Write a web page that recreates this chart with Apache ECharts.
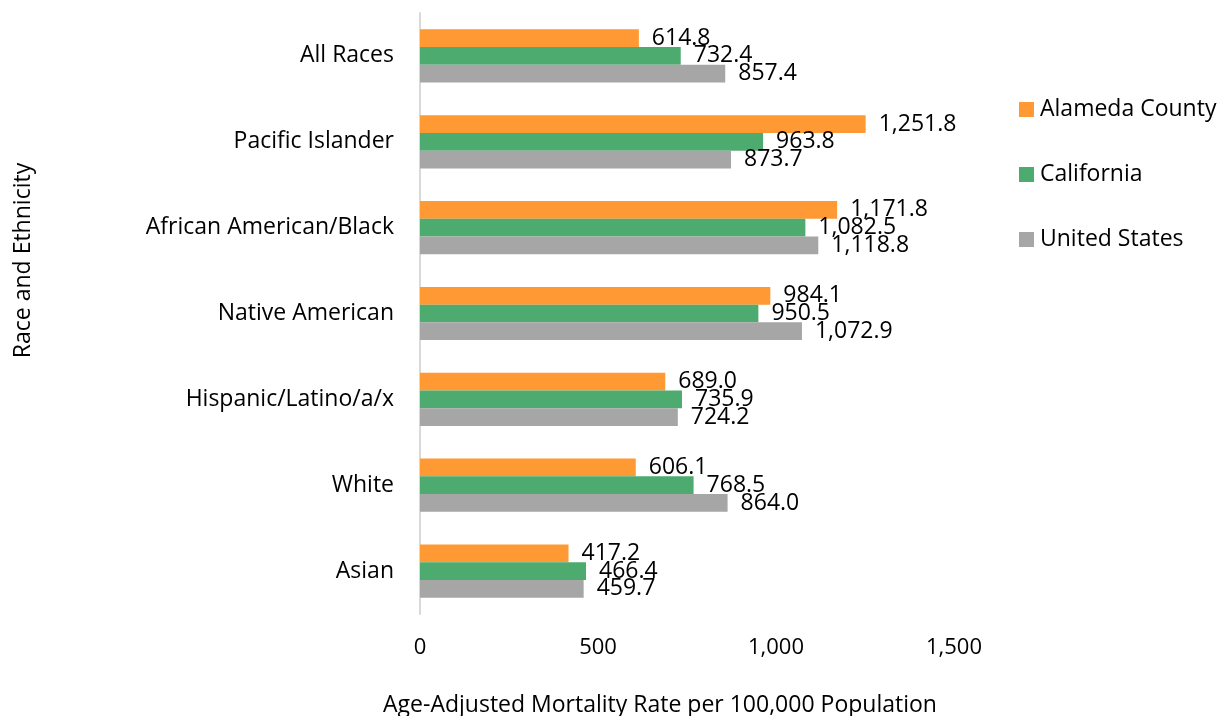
<!DOCTYPE html>
<html>
<head>
<meta charset="utf-8">
<script src="https://cdn.jsdelivr.net/npm/echarts@6/dist/echarts.min.js"></script>
<style>html,body{margin:0;padding:0;background:#fff}#chart{width:1220px;height:716px}</style>
</head>
<body>
<div id="chart"></div>
<script>
const categories = ["All Races", "Pacific Islander", "African American/Black", "Native American", "Hispanic/Latino/a/x", "White", "Asian"];
const seriesNames = ["Alameda County", "California", "United States"];
const alameda = [614.8, 1251.8, 1171.8, 984.1, 689.0, 606.1, 417.2];
const california = [732.4, 963.8, 1082.5, 950.5, 735.9, 768.5, 466.4];
const unitedStates = [857.4, 873.7, 1118.8, 1072.9, 724.2, 864.0, 459.7];
const xTicks = [0, 500, 1000, 1500];
const xAxisTitle = "Age-Adjusted Mortality Rate per 100,000 Population";
const yAxisTitle = "Race and Ethnicity";

const FONT = "Open Sans";
const colors = ["#FF9933", "#4DAB6F", "#A6A6A6"];
const fmt = v => Number(v).toLocaleString("en-US", {minimumFractionDigits: 1, maximumFractionDigits: 1});
const fmtTick = v => Number(v).toLocaleString("en-US");

const chart = echarts.init(document.getElementById("chart"), null, {renderer: "canvas"});
const dataSets = [alameda, california, unitedStates];
chart.setOption({
  animation: false,
  textStyle: {fontFamily: FONT},
  color: colors,
  grid: {left: 420, right: 266, top: 13, bottom: 102, containLabel: false, outerBoundsMode: "none"},
  legend: {
    orient: "vertical",
    left: 1014,
    top: 93,
    itemWidth: 15,
    itemHeight: 15,
    itemGap: 42,
    icon: "rect",
    textStyle: {fontFamily: FONT, fontSize: 23, color: "#000", padding: [0, 0, 0, 1]},
    data: seriesNames
  },
  xAxis: {
    type: "value",
    min: xTicks[0],
    max: xTicks[xTicks.length - 1],
    interval: 500,
    splitLine: {show: false},
    axisLine: {show: false},
    axisTick: {show: false},
    axisLabel: {fontFamily: FONT, fontSize: 22, color: "#000", margin: 23, formatter: fmtTick},
    name: xAxisTitle,
    nameLocation: "middle",
    nameGap: 80,
    nameTextStyle: {fontFamily: FONT, fontSize: 23, color: "#000", padding: [0, 54, 0, 0]}
  },
  yAxis: {
    type: "category",
    inverse: true,
    data: categories,
    axisLine: {show: true, lineStyle: {color: "#D9D9D9", width: 2}},
    axisTick: {show: false},
    axisLabel: {fontFamily: FONT, fontSize: 23, color: "#000", margin: 26},
    name: yAxisTitle,
    nameLocation: "middle",
    nameRotate: 90,
    nameGap: 385,
    nameTextStyle: {fontFamily: FONT, fontSize: 23, color: "#000", padding: [0, 0, 0, 106]}
  },
  series: seriesNames.map((n, i) => ({
    name: n,
    type: "bar",
    data: dataSets[i],
    barGap: "0%",
    barCategoryGap: "38%",
    label: {
      show: true,
      position: "right",
      distance: 13,
      fontFamily: FONT,
      fontSize: 23,
      color: "#000",
      formatter: p => fmt(p.value)
    }
  }))
});
</script>
</body>
</html>
